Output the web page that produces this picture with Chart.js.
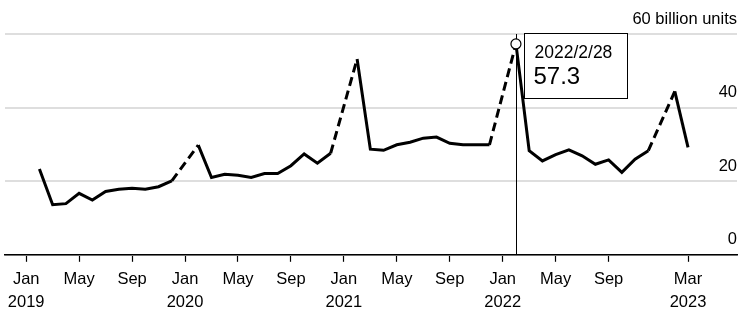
<!DOCTYPE html>
<html>
<head>
<meta charset="utf-8">
<script src="https://cdn.jsdelivr.net/npm/chart.js@4.4.1/dist/chart.umd.min.js"></script>
<style>
  html, body { margin: 0; padding: 0; background: #fff; }
  #wrap { width: 750px; height: 316px; }
</style>
</head>
<body>
<div id="wrap"><canvas id="chart"></canvas></div>
<script>
// Monthly output, billion units. Index 0 = Jan 2019. January is folded into February (null).
var startYear = 2019;
var values = [
  null, 23.3, 13.6, 13.9, 16.7, 14.9, 17.2, 17.8, 18.1, 17.8, 18.5, 20.1,   // 2019
  null, 29.8, 21.0, 21.9, 21.6, 21.0, 22.1, 22.1, 24.2, 27.4, 24.9, 27.6,   // 2020
  null, 53.2, 28.7, 28.4, 29.9, 30.6, 31.7, 32.0, 30.3, 29.9, 29.9, 29.9,   // 2021
  null, 57.3, 28.3, 25.5, 27.2, 28.5, 26.9, 24.6, 25.8, 22.4, 26.0, 28.3,   // 2022
  null, 44.4, 29.2                                                          // 2023
];
var monthNames = ['Jan', 'Feb', 'Mar', 'Apr', 'May', 'Jun', 'Jul', 'Aug', 'Sep', 'Oct', 'Nov', 'Dec'];
var xTicks = [0, 4, 8, 12, 16, 20, 24, 28, 32, 36, 40, 44, 50];
var yTicks = [0, 20, 40, 60];
var yUnit = 'billion units';
var highlightIndex = 37; // 2022/2/28

var FONT = '"Liberation Sans", Arial, sans-serif';
var points = values.map(function(v, i) { return { x: i, y: v }; });

function monthLabel(i) {
  var m = i % 12;
  var y = startYear + Math.floor(i / 12);
  if (m === 0 || i === xTicks[xTicks.length - 1]) return [monthNames[m], String(y)];
  return monthNames[m];
}

// Draws the hover-style callout for one point
var callout = {
  id: 'callout',
  afterDatasetsDraw: function(chart) {
    var ctx = chart.ctx;
    var xs = chart.scales.x, ys = chart.scales.y;
    var v = values[highlightIndex];
    var px = xs.getPixelForValue(highlightIndex);
    var py = ys.getPixelForValue(v);
    var top = ys.getPixelForValue(60);
    ctx.save();
    ctx.strokeStyle = '#000';
    ctx.lineWidth = 1;
    ctx.beginPath();
    ctx.moveTo(Math.round(px) + 0.5, top);
    ctx.lineTo(Math.round(px) + 0.5, ys.bottom);
    ctx.stroke();

    ctx.beginPath();
    ctx.arc(px, py, 5, 0, Math.PI * 2);
    ctx.fillStyle = '#fff';
    ctx.fill();
    ctx.lineWidth = 1.2;
    ctx.stroke();

    var m = highlightIndex % 12;
    var yr = startYear + Math.floor(highlightIndex / 12);
    var lastDay = new Date(yr, m + 1, 0).getDate();
    var bx = Math.round(px) + 8.5, by = Math.round(top) - 0.5;
    ctx.fillStyle = '#fff';
    ctx.fillRect(bx, by, 103, 65);
    ctx.lineWidth = 1;
    ctx.strokeRect(bx, by, 103, 65);
    ctx.fillStyle = '#000';
    ctx.textBaseline = 'alphabetic';
    ctx.font = '17.5px ' + FONT;
    ctx.fillText(yr + '/' + (m + 1) + '/' + lastDay, bx + 10, by + 24);
    ctx.font = '24px ' + FONT;
    ctx.fillText(v.toFixed(1), bx + 9, by + 50);
    ctx.restore();
  }
};

new Chart(document.getElementById('chart'), {
  type: 'line',
  data: {
    datasets: [{
      data: points,
      borderColor: '#000',
      borderWidth: 3,
      pointRadius: 0,
      tension: 0,
      spanGaps: true,
      segment: {
        // dashed across the missing January
        borderDash: function(c) {
          var gap = values[c.p0DataIndex] == null || values[c.p1DataIndex] == null ||
                    c.p1DataIndex - c.p0DataIndex > 1;
          return gap ? [9, 5] : undefined;
        }
      }
    }]
  },
  options: {
    responsive: true,
    maintainAspectRatio: false,
    animation: false,
    layout: { padding: { left: 5, right: 13, top: 34, bottom: -5 } },
    plugins: { legend: { display: false }, tooltip: { enabled: false } },
    scales: {
      x: {
        type: 'linear',
        min: -1.6,
        max: 53.7,
        afterBuildTicks: function(axis) {
          axis.ticks = xTicks.map(function(v) { return { value: v }; });
        },
        grid: { drawOnChartArea: false, drawTicks: true, tickLength: 7, tickColor: '#000', tickWidth: 1.2 },
        border: { display: true, color: '#000', width: 1.5 },
        ticks: {
          autoSkip: false,
          maxRotation: 0,
          padding: 6.5,
          color: '#000',
          font: { family: FONT, size: 16.5, lineHeight: 1.4 },
          callback: function(v) { return monthLabel(v); }
        }
      },
      y: {
        position: 'right',
        min: 0,
        max: 60,
        afterBuildTicks: function(axis) {
          axis.ticks = yTicks.map(function(v) { return { value: v }; });
        },
        grid: { color: '#dedede', lineWidth: 2, drawTicks: false, tickLength: 0 },
        border: { display: false },
        ticks: {
          mirror: true,
          padding: 0,
          labelOffset: -15,
          color: '#000',
          font: { family: FONT, size: 16.5 },
          callback: function(v) { return v === 60 ? v + ' ' + yUnit : String(v); }
        }
      }
    }
  },
  plugins: [callout]
});
</script>
</body>
</html>
